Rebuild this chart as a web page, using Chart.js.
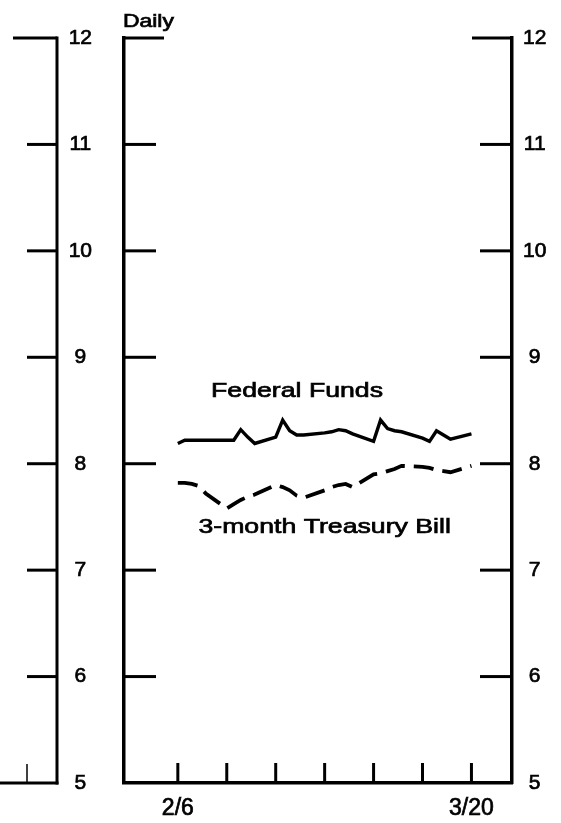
<!DOCTYPE html>
<html>
<head>
<meta charset="utf-8">
<script src="https://cdn.jsdelivr.net/npm/chart.js@4"></script>
<style>
  html, body { margin: 0; padding: 0; background: #fff; }
  #wrap { position: relative; width: 561px; height: 823px; }
</style>
</head>
<body>
<div id="wrap"><canvas id="rates"></canvas></div>
<script>
// days counted from 2/6 (business days only)
const dayOffsets = [0, 1, 2, 3, 4, 7, 8, 9, 10, 11, 14, 15, 16, 17, 18, 21, 22, 23, 24, 25,
                    28, 29, 30, 31, 32, 35, 36, 37, 38, 39, 42];
const fedFunds = [8.19, 8.22, 8.22, 8.22, 8.22, 8.22, 8.22, 8.32, 8.25, 8.19,
                  8.25, 8.41, 8.31, 8.27, 8.27, 8.29, 8.30, 8.32, 8.31, 8.28,
                  8.21, 8.41, 8.33, 8.31, 8.30, 8.24, 8.21, 8.31, 8.27, 8.23, 8.28];
const tBill = [7.82, 7.82, 7.81, 7.79, 7.72, 7.58, 7.62, 7.66, 7.69, 7.71,
               7.80, 7.78, 7.75, 7.70, 7.68, 7.75, 7.78, 7.80, 7.81, 7.78,
               7.90, 7.91, 7.93, 7.95, 7.98, 7.97, 7.96, 7.94, 7.93, 7.92, 7.98];
const xTickDays = [0, 7, 14, 21, 28, 35, 42];
const xTickLabels = ['2/6', '', '', '', '', '', '3/20'];
const yTickValues = [5, 6, 7, 8, 9, 10, 11, 12];

const FONT = '"Liberation Sans", Arial, Helvetica, sans-serif';
Chart.defaults.font.family = FONT;
Chart.defaults.color = '#000';

function line(ctx, x1, y1, x2, y2) {
    ctx.beginPath();
    ctx.moveTo(x1, y1);
    ctx.lineTo(x2, y2);
    ctx.stroke();
}

// wide, heavy lettering like the printed original
function wideText(ctx, text, x, y, size, align) {
    ctx.save();
    ctx.font = size + 'px ' + FONT;
    ctx.textAlign = align;
    ctx.textBaseline = 'alphabetic';
    ctx.translate(x, y);
    ctx.scale(1.27, 1);
    ctx.fillStyle = '#000';
    ctx.strokeStyle = '#000';
    ctx.lineWidth = 0.7;
    ctx.fillText(text, 0, 0);
    ctx.strokeText(text, 0, 0);
    ctx.restore();
}

// keep the plot box exactly where the axes are, no room added for labels
function noPad(s) {
    s.paddingTop = 0;
    s.paddingBottom = 0;
    s.paddingLeft = 0;
    s.paddingRight = 0;
}

const inkPlugin = {
    id: 'ink',
    afterDraw(chart) {
        const ctx = chart.ctx;
        const xs = chart.scales.x, ys = chart.scales.y;
        const a = chart.chartArea;
        ctx.save();
        ctx.strokeStyle = '#000';
        ctx.lineWidth = 3;

        // inward ticks on both sides of the main panel
        yTickValues.forEach(v => {
            if (v === 5) return;
            const py = ys.getPixelForValue(v);
            const len = v === 12 ? 40 : 32;
            line(ctx, a.left, py, a.left + len, py);
            line(ctx, a.right, py, a.right - len, py);
        });
        // weekly ticks pointing up
        xTickDays.forEach(d => {
            const px = xs.getPixelForValue(d);
            line(ctx, px, a.bottom, px, a.bottom - 20);
        });

        // edge of the neighbouring panel on the left
        const edge = 57;
        line(ctx, edge, a.top - 1.5, edge, a.bottom + 1.5);
        yTickValues.forEach(v => {
            if (v === 5) return;
            const py = ys.getPixelForValue(v);
            line(ctx, edge - (v === 12 ? 44 : 30), py, edge, py);
        });
        line(ctx, 0, a.bottom, edge + 1.5, a.bottom);
        ctx.lineWidth = 1.5;
        line(ctx, 27, a.bottom, 27, a.bottom - 19);
        ctx.restore();

        wideText(ctx, 'Daily', a.left - 1, a.top - 11, 18, 'left');
        wideText(ctx, 'Federal Funds', xs.getPixelForValue(17.05), ys.getPixelForValue(8.63), 21, 'center');
        wideText(ctx, '3-month Treasury Bill', xs.getPixelForValue(21), ys.getPixelForValue(7.35), 21, 'center');
    }
};

const tickFont = { size: 21 };

new Chart(document.getElementById('rates'), {
    type: 'line',
    data: {
        datasets: [
            {
                label: 'Federal Funds',
                data: dayOffsets.map((d, i) => ({ x: d, y: fedFunds[i] })),
                borderColor: '#000',
                borderWidth: 3.4,
                pointRadius: 0,
                tension: 0,
                fill: false
            },
            {
                label: '3-month Treasury Bill',
                data: dayOffsets.map((d, i) => ({ x: d, y: tBill[i] })),
                borderColor: '#000',
                borderWidth: 3.8,
                borderDash: [20, 9],
                pointRadius: 0,
                tension: 0,
                fill: false
            }
        ]
    },
    options: {
        responsive: true,
        maintainAspectRatio: false,
        animation: false,
        layout: { padding: { top: 38, left: 0, right: 0, bottom: 0 } },
        plugins: {
            legend: { display: false },
            tooltip: { enabled: false }
        },
        scales: {
            x: {
                type: 'linear',
                min: -7.7,
                max: 47.8,
                afterBuildTicks: s => { s.ticks = xTickDays.map(v => ({ value: v })); },
                afterFit: s => { s.height = 40; noPad(s); },
                ticks: {
                    autoSkip: false,
                    maxRotation: 0,
                    padding: 12,
                    font: { size: 23 },
                    color: '#000',
                    textStrokeWidth: 0.7,
                    textStrokeColor: '#000',
                    callback: v => xTickLabels[xTickDays.indexOf(v)]
                },
                grid: { display: false, drawTicks: false },
                border: { display: true, color: '#000', width: 3.5 }
            },
            y: {
                position: 'left',
                min: 5,
                max: 12,
                afterBuildTicks: s => { s.ticks = yTickValues.map(v => ({ value: v })); },
                afterFit: s => { s.width = 124; noPad(s); },
                ticks: {
                    font: tickFont,
                    color: '#000',
                    padding: 32,
                    crossAlign: 'center',
                    textStrokeWidth: 0.7,
                    textStrokeColor: '#000'
                },
                grid: { display: false, drawTicks: false },
                border: { display: true, color: '#000', width: 3.5 }
            },
            y2: {
                position: 'right',
                min: 5,
                max: 12,
                afterBuildTicks: s => { s.ticks = yTickValues.map(v => ({ value: v })); },
                afterFit: s => { s.width = 49; noPad(s); },
                ticks: {
                    font: tickFont,
                    color: '#000',
                    padding: 11,
                    crossAlign: 'center',
                    textStrokeWidth: 0.7,
                    textStrokeColor: '#000'
                },
                grid: { display: false, drawTicks: false },
                border: { display: true, color: '#000', width: 3.5 }
            }
        }
    },
    plugins: [inkPlugin]
});
</script>
</body>
</html>
